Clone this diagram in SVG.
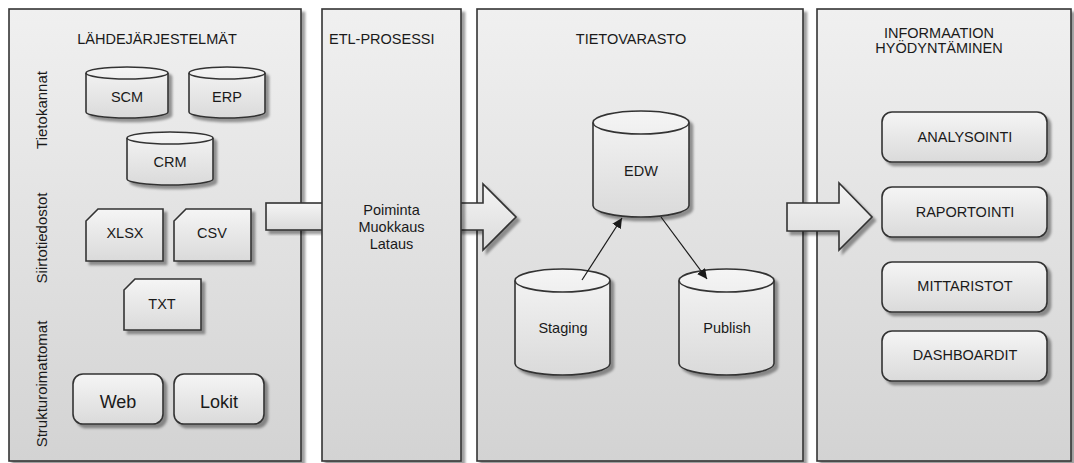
<svg xmlns="http://www.w3.org/2000/svg" width="1074" height="463" viewBox="0 0 1074 463">
<defs>
<linearGradient id="panelGrad" x1="0" y1="0" x2="0" y2="1">
<stop offset="0" stop-color="#F0F0F0"/>
<stop offset="1" stop-color="#D3D3D3"/>
</linearGradient>
<linearGradient id="nodeGrad" x1="0" y1="0" x2="0" y2="1">
<stop offset="0" stop-color="#F5F5F5"/>
<stop offset="1" stop-color="#DADADA"/>
</linearGradient>
<filter id="shadow" x="-10%" y="-10%" width="130%" height="130%">
<feDropShadow dx="3.5" dy="3.5" stdDeviation="1" flood-color="#000" flood-opacity="0.38"/>
</filter>
<marker id="arrow" viewBox="0 0 10 10" refX="10" refY="5" markerWidth="10" markerHeight="10" markerUnits="userSpaceOnUse" orient="auto">
<path d="M0,0 L10,5 L0,10 Z" fill="#1a1a1a"/>
</marker>
</defs>
<style>
.panel{fill:url(#panelGrad);stroke:#333;stroke-width:1.6;filter:url(#shadow)}
.node{fill:url(#nodeGrad);stroke:#333;stroke-width:1.6;filter:url(#shadow)}
.big{fill:url(#nodeGrad);stroke:#333;stroke-width:1.6;filter:url(#shadow)}
.inner{fill:none;stroke:#333;stroke-width:1.6}
.t{font-family:"Liberation Sans",Arial,sans-serif;font-size:14.5px;fill:#1a1a1a;text-anchor:middle}
.tl{font-family:"Liberation Sans",Arial,sans-serif;font-size:14.5px;fill:#1a1a1a}
.tv{font-family:"Liberation Sans",Arial,sans-serif;font-size:15px;fill:#1a1a1a;text-anchor:middle}
.tb{font-family:"Liberation Sans",Arial,sans-serif;font-size:18px;fill:#1a1a1a;text-anchor:middle}
.link{fill:none;stroke:#1a1a1a;stroke-width:1.2;marker-end:url(#arrow)}
</style>
<rect width="1074" height="463" fill="#fff"/>

<g id="panel-lahdejarjestelmat">
<rect class="panel" x="9" y="9" width="292" height="452"/>
<text class="t" x="157" y="44">LÄHDEJÄRJESTELMÄT</text>
<text class="tv" transform="translate(47,110) rotate(-90)">Tietokannat</text>
<text class="tv" transform="translate(47,238) rotate(-90)">Siirtotiedostot</text>
<text class="tv" transform="translate(47,384) rotate(-90)">Strukturoimattomat</text>
</g>

<g id="panel-tietovarasto">
<rect class="panel" x="477" y="9" width="326" height="452"/>
<text class="t" x="631" y="44">TIETOVARASTO</text>
</g>

<g id="panel-informaatio">
<rect class="panel" x="817" y="9" width="254" height="452"/>
<text class="t" x="939" y="38">INFORMAATION</text>
<text class="t" x="939" y="53">HYÖDYNTÄMINEN</text>
</g>

<g id="flow-arrows">
<rect class="big" x="266" y="203" width="60" height="27"/>
<path class="big" d="M455,203 H483 V184 L516,217 L483,250 V230 H455 Z"/>
<path class="big" d="M787,203 H839 V183 L872,217 L839,250 V231 H787 Z"/>
</g>

<g id="panel-etl">
<rect class="panel" x="322" y="9" width="139" height="452"/>
<text class="tl" x="329" y="44">ETL-PROSESSI</text>
<text class="t" x="391.5" y="215">Poiminta</text>
<text class="t" x="391.5" y="232">Muokkaus</text>
<text class="t" x="391.5" y="249">Lataus</text>
</g>

<g id="node-scm">
<path class="node" d="M86,73 A41,6 0 0 1 168,73 V112 A41,6 0 0 1 86,112 Z"/>
<path class="inner" d="M86,73 A41,6 0 0 0 168,73"/>
<text class="t" x="127" y="102">SCM</text>
</g>
<g id="node-erp">
<path class="node" d="M189,73 A38,6 0 0 1 265,73 V112 A38,6 0 0 1 189,112 Z"/>
<path class="inner" d="M189,73 A38,6 0 0 0 265,73"/>
<text class="t" x="227" y="102">ERP</text>
</g>
<g id="node-crm">
<path class="node" d="M127,138 A43,6 0 0 1 213,138 V179 A43,6 0 0 1 127,179 Z"/>
<path class="inner" d="M127,138 A43,6 0 0 0 213,138"/>
<text class="t" x="170" y="167">CRM</text>
</g>
<g id="node-xlsx">
<path class="node" d="M98,209 H163 V261 H86 V221 Z"/>
<text class="t" x="125" y="238">XLSX</text>
</g>
<g id="node-csv">
<path class="node" d="M186,209 H251 V261 H174 V221 Z"/>
<text class="t" x="212" y="238">CSV</text>
</g>
<g id="node-txt">
<path class="node" d="M135,279 H201 V330 H124 V290 Z"/>
<text class="t" x="162" y="309">TXT</text>
</g>
<g id="node-web">
<rect class="node" x="73" y="374" width="90" height="50" rx="10"/>
<text class="tb" x="118" y="408">Web</text>
</g>
<g id="node-lokit">
<rect class="node" x="174" y="374" width="90" height="50" rx="10"/>
<text class="tb" x="219" y="408">Lokit</text>
</g>

<g id="node-edw">
<path class="node" d="M593,122.5 A48,11.5 0 0 1 689,122.5 V205.5 A48,11.5 0 0 1 593,205.5 Z"/>
<path class="inner" d="M593,122.5 A48,11.5 0 0 0 689,122.5"/>
<text class="t" x="641" y="176">EDW</text>
</g>
<g id="node-staging">
<path class="node" d="M515,280.5 A47.5,11.5 0 0 1 610,280.5 V363.5 A47.5,11.5 0 0 1 515,363.5 Z"/>
<path class="inner" d="M515,280.5 A47.5,11.5 0 0 0 610,280.5"/>
<text class="t" x="563" y="333">Staging</text>
</g>
<g id="node-publish">
<path class="node" d="M679,280.5 A47.5,11.5 0 0 1 774,280.5 V363.5 A47.5,11.5 0 0 1 679,363.5 Z"/>
<path class="inner" d="M679,280.5 A47.5,11.5 0 0 0 774,280.5"/>
<text class="t" x="727" y="333">Publish</text>
</g>

<g id="node-analysointi">
<rect class="node" x="882" y="112" width="165" height="50" rx="10"/>
<text class="t" x="965" y="142">ANALYSOINTI</text>
</g>
<g id="node-raportointi">
<rect class="node" x="882" y="187" width="165" height="50" rx="10"/>
<text class="t" x="965" y="217">RAPORTOINTI</text>
</g>
<g id="node-mittaristot">
<rect class="node" x="882" y="262" width="165" height="50" rx="10"/>
<text class="t" x="965" y="291">MITTARISTOT</text>
</g>
<g id="node-dashboardit">
<rect class="node" x="882" y="331" width="165" height="50" rx="10"/>
<text class="t" x="965" y="360">DASHBOARDIT</text>
</g>

<g id="connectors">
<line class="link" x1="582" y1="280" x2="622" y2="218"/>
<line class="link" x1="661" y1="217" x2="707" y2="279"/>
</g>
</svg>
